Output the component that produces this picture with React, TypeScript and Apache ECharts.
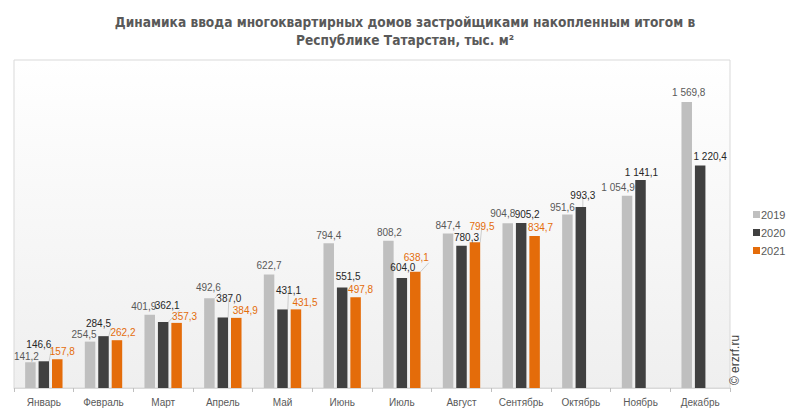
import React, { useEffect, useRef } from "react";
import * as echarts from "echarts";

const months = ["Январь", "Февраль", "Март", "Апрель", "Май", "Июнь", "Июль", "Август", "Сентябрь", "Октябрь", "Ноябрь", "Декабрь"];
const seriesNames = ["2019", "2020", "2021"];
const values2019 = [141.2, 254.5, 401.9, 492.6, 622.7, 794.4, 808.2, 847.4, 904.8, 951.6, 1054.9, 1569.8];
const values2020 = [146.6, 284.5, 362.1, 387.0, 431.1, 551.5, 604.0, 780.3, 905.2, 993.3, 1141.1, 1220.4];
const values2021 = [157.8, 262.2, 357.3, 384.9, 431.5, 497.8, 638.1, 799.5, 834.7, null, null, null];

// label nudges (px) from the top of each bar, as placed in the reference
const nudge2019 = [[-4, -6], [-6, -7], [-6, -8], [-1, -11], [0, -9], [0, -8], [1, -8], [0, -8], [-5, -10], [-5, -7], [-9, -8], [2, -9]];
const nudge2020 = [[-5, -17], [-5, -13], [4, -17], [6, -19], [6, -19], [6, -11], [1, -10], [5, -8], [6, -9], [2, -11], [1, -8], [10, -9]];
const nudge2021 = [[5, -8], [6, -8], [8, -6], [9, -7], [9, -7], [5, -8], [1, -14], [7, -16], [6, -8], [0, 0], [0, 0], [0, 0]];
// which labels have a leader line in the reference
const leader2019 = [false, false, false, true, false, false, false, false, false, false, false, false];
const leader2020 = [true, true, true, true, true, false, false, false, false, true, false, false];
const leader2021 = [false, false, false, false, false, false, true, true, false, false, false, false];

const colors = ["#BFBFBF", "#404040", "#E46C0A"];
const labelColors = ["#595959", "#262626", "#E46C0A"];

const fmt = (v: number) => {
  const s = v.toFixed(1);
  const [i, d] = s.split(".");
  return i.replace(/\B(?=(\d{3})+(?!\d))/g, " ") + "," + d;
};

export default function App() {
  const ref = useRef<HTMLDivElement>(null);
  useEffect(() => {
    document.body.style.margin = "0";
    const chart = echarts.init(ref.current!, null, { renderer: "svg" });
    const font = "'Liberation Sans', Arial, sans-serif";
    const all = [values2019, values2020, values2021];
    const nudges = [nudge2019, nudge2020, nudge2021];
    const leaders = [leader2019, leader2020, leader2021];
    chart.setOption({
      animation: false,
      backgroundColor: "#ffffff",
      title: {
        text: "Динамика ввода многоквартирных домов застройщиками накопленным итогом в\nРеспублике Татарстан, тыс. м²",
        left: 400,
        textAlign: "center",
        top: 8,
        textStyle: {
          fontFamily: "'Liberation Sans Narrow', 'DejaVu Sans Condensed', 'Roboto', sans-serif",
          fontSize: 13.6,
          fontWeight: "bold",
          color: "#595959",
          lineHeight: 18,
        },
      },
      legend: {
        orient: "vertical",
        left: 748,
        top: 204,
        itemWidth: 7,
        itemHeight: 7,
        itemGap: 7,
        icon: "rect",
        textStyle: { fontFamily: font, fontSize: 11, color: "#595959", padding: [0, 0, 0, -4] },
        data: seriesNames,
      },
      grid: {
        left: 14,
        right: 63,
        top: 60,
        bottom: 27,
        show: true,
        borderColor: "#D9D9D9",
        borderWidth: 1,
        backgroundColor: new echarts.graphic.LinearGradient(0, 0, 0, 1, [
          { offset: 0, color: "#FFFFFF" },
          { offset: 1, color: "#EFEFEF" },
        ]),
      },
      xAxis: {
        type: "category",
        data: months,
        axisLine: { lineStyle: { color: "#D9D9D9" } },
        axisTick: { show: true, length: 4, lineStyle: { color: "#BFBFBF" } },
        axisLabel: { fontFamily: font, fontSize: 10, color: "#595959", margin: 9 },
      },
      yAxis: {
        type: "value",
        min: 0,
        max: 1800,
        show: false,
        splitLine: { show: false },
      },
      graphic: [
        {
          type: "text",
          x: 735,
          y: 360,
          rotation: Math.PI / 2,
          style: {
            text: "© erzrf.ru",
            fontFamily: font,
            fontSize: 12,
            fill: "#404040",
            align: "center",
            verticalAlign: "middle",
          },
        },
      ],
      series: seriesNames.map((name, si) => ({
        name,
        type: "bar",
        barWidth: 10.5,
        barGap: "28%",
        itemStyle: { color: colors[si] },
        label: {
          show: true,
          position: "top",
          distance: 0,
          verticalAlign: "middle",
          fontFamily: font,
          fontSize: 10,
          color: labelColors[si],
          formatter: (p: any) => fmt(p.value),
        },
        labelLine: { show: false, lineStyle: { color: "#BFBFBF", width: 0.75 } },
        data: all[si].map((v, i) =>
          v == null
            ? null
            : {
                value: v,
                label: { offset: nudges[si][i] },
                labelLine: { show: leaders[si][i], lineStyle: { color: "#BFBFBF", width: 0.75 } },
              }
        ),
      })),
    });
    return () => chart.dispose();
  }, []);
  return <div ref={ref} style={{ position: "fixed", left: 0, top: 0, width: 793, height: 415 }} />;
}
